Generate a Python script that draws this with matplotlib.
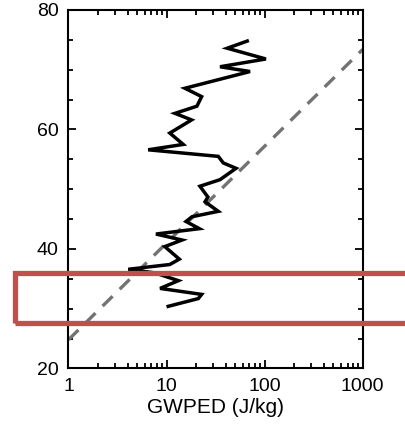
import numpy as np
import matplotlib
matplotlib.use("Agg")
import matplotlib.pyplot as plt
from matplotlib.patches import Rectangle
from matplotlib.ticker import FixedLocator, NullFormatter

plt.rcParams['font.family'] = ['Liberation Sans', 'DejaVu Sans']

# GWPED profile (J/kg) vs altitude (km)
gwped = [66.5, 41.6, 103, 35.1, 71, 15.4, 22.8, 20.4, 12.2, 18.0,
         10.8, 14.8, 6.5, 33.7, 37.9, 51.1, 35.1, 21.9, 26.4, 24.7,
         33.7, 18.2, 15.8, 21.6, 7.8, 14.4, 9.6, 13.5, 10.8, 4.07,
         7.6, 13.2, 8.6, 22.8, 21.1, 10.4]
alt = [74.8, 73.6, 71.8, 70.5, 69.7, 66.9, 65.5, 63.9, 62.7, 61.6,
       59.4, 57.5, 56.6, 55.5, 54.4, 53.5, 51.6, 50.5, 48.7, 47.9,
       46.3, 45.4, 44.6, 43.4, 42.5, 41.5, 40.4, 38.3, 37.4, 36.6,
       36.0, 34.7, 33.4, 32.4, 31.7, 30.4]

# reference growth line
ref_x = [1, 1000]
ref_y = [24.8, 73.4]

# highlighted altitude band
band_x = (0.285, 3000)
band_y = (27.6, 36.0)

fig = plt.figure(figsize=(4.05, 4.25), dpi=100)
ax = fig.add_axes([0.169, 0.133, 0.7266, 0.8435])

ax.plot(ref_x, ref_y, color='#737373', lw=2.4, ls=(0, (4.2, 3.0)))
ax.plot(gwped, alt, color='black', lw=2.5, solid_joinstyle='miter')

ax.set_xscale('log')
ax.set_xlim(1, 1000)
ax.set_ylim(20, 80)
ax.set_xticks([1, 10, 100, 1000])
ax.set_xticklabels(['1', '10', '100', '1000'])
ax.set_yticks([20, 40, 60, 80])
ax.yaxis.set_minor_locator(FixedLocator(np.arange(20, 81, 5)))
ax.xaxis.set_minor_formatter(NullFormatter())

ax.tick_params(which='both', direction='in', top=True, right=True,
               labelsize=14, width=1.3)
ax.tick_params(which='major', length=6, pad=7)
ax.tick_params(which='minor', length=3.5)
for s in ax.spines.values():
    s.set_linewidth(1.5)

ax.set_xlabel('GWPED (J/kg)', fontsize=15, labelpad=2)

rect = Rectangle((band_x[0], band_y[0]), band_x[1] - band_x[0],
                 band_y[1] - band_y[0], fill=False, edgecolor='#C0504D',
                 lw=3.8, clip_on=False, zorder=5)
ax.add_patch(rect)

fig.savefig('out.png', dpi=100)
